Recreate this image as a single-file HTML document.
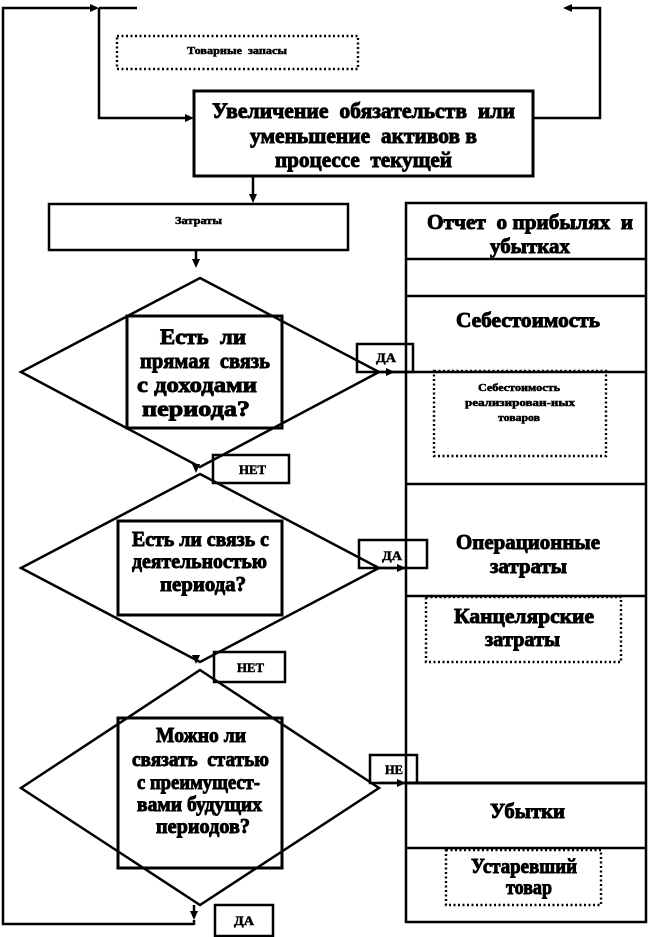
<!DOCTYPE html>
<html><head><meta charset="utf-8"><style>
html,body{margin:0;padding:0;background:#fff;}
svg{display:block;}
text{font-family:"Liberation Serif","Noto Serif CJK SC",serif;font-weight:bold;fill:#000;stroke:#000;stroke-width:0.9;white-space:pre;}
.s{stroke-width:0.5;}
</style></head><body>
<svg width="650" height="937" viewBox="0 0 650 937" xmlns="http://www.w3.org/2000/svg" xml:space="preserve">
<g fill="none" stroke="#000" stroke-width="2.5">
<polyline points="194,924 3,924 3,8 91,8"/>
<line x1="99" y1="8" x2="137" y2="8"/>
<polyline points="99,8 99,118 186,118"/>
<polyline points="533,118 600,118 600,8 571,8"/>
<rect x="194" y="91" width="339" height="85" stroke-width="3"/>
<line x1="253" y1="176" x2="253" y2="195"/>
<rect x="49" y="204" width="299" height="46"/>
<line x1="196" y1="250" x2="196" y2="260"/>
<polygon points="200,278 379,372 200,467 21,372"/>
<polygon points="200,474 379,568 200,662 21,568"/>
<polygon points="200,670 379,788 200,905 21,788"/>
<rect x="127" y="316" width="155" height="112" stroke-width="3"/>
<rect x="118" y="521" width="164" height="94" stroke-width="3"/>
<rect x="118" y="718" width="164" height="150" stroke-width="3"/>
<line x1="379" y1="372" x2="407" y2="372"/>
<line x1="379" y1="568" x2="407" y2="568"/>
<line x1="379" y1="783" x2="407" y2="783"/>
<line x1="194" y1="905" x2="194" y2="912"/>
<line x1="194" y1="920" x2="194" y2="925"/>
<rect x="357" y="344" width="56" height="28"/>
<rect x="213" y="455" width="76" height="28"/>
<rect x="359" y="540" width="68" height="28"/>
<rect x="214" y="652" width="71" height="30"/>
<rect x="370" y="755" width="47" height="28"/>
<rect x="215" y="905" width="58" height="31"/>
<rect x="406" y="203" width="240" height="719"/>
<line x1="406" y1="259" x2="646" y2="259"/>
<line x1="406" y1="296" x2="646" y2="296"/>
<line x1="406" y1="372" x2="646" y2="372"/>
<line x1="406" y1="484" x2="646" y2="484"/>
<line x1="406" y1="596" x2="646" y2="596"/>
<line x1="406" y1="783" x2="646" y2="783" stroke-width="3"/>
<line x1="406" y1="848" x2="646" y2="848"/>
</g>
<g fill="none" stroke="#000" stroke-width="2.4" stroke-dasharray="2 2.5">
<rect x="117" y="36" width="241" height="33"/>
<rect x="434" y="371" width="172" height="85"/>
<rect x="426" y="597" width="195" height="65"/>
<rect x="446" y="850" width="155" height="55"/>
</g>
<g fill="#000" stroke="none">
<polygon points="90,4 99,8 90,12"/>
<polygon points="185,114 194,118 185,122"/>
<polygon points="572,4 563,8 572,12"/>
<polygon points="249,194 253,203 257,194"/>
<polygon points="192,259 196,268 200,259"/>
<polygon points="386,368 395,372 386,376"/>
<polygon points="192,464 196,473 200,464"/>
<polygon points="397,564 406,568 397,572"/>
<polygon points="192,655 196,664 200,655"/>
<polygon points="397,779 406,783 397,787"/>
<polygon points="190,911 194,920 198,911"/>
</g>
<text x="212" y="118" font-size="22" textLength="303" lengthAdjust="spacingAndGlyphs">Увеличение  обязательств  или</text>
<text x="250" y="143" font-size="22" textLength="227" lengthAdjust="spacingAndGlyphs">уменьшение  активов в</text>
<text x="275" y="167" font-size="22" textLength="177" lengthAdjust="spacingAndGlyphs">процессе  текущей</text>
<text class="s" x="187" y="54" font-size="11" textLength="100" lengthAdjust="spacingAndGlyphs">Товарные  запасы</text>
<text class="s" x="175" y="224" font-size="11" textLength="47" lengthAdjust="spacingAndGlyphs">Затраты</text>
<text class="s" x="478" y="391" font-size="10" textLength="82" lengthAdjust="spacingAndGlyphs">Себестоимость</text>
<text class="s" x="465" y="406" font-size="10" textLength="110" lengthAdjust="spacingAndGlyphs">реализирован-ных</text>
<text class="s" x="498" y="421" font-size="10" textLength="42" lengthAdjust="spacingAndGlyphs">товаров</text>
<text x="160" y="344" font-size="22" textLength="86" lengthAdjust="spacingAndGlyphs">Есть  ли</text>
<text x="140" y="368" font-size="22" textLength="130" lengthAdjust="spacingAndGlyphs">прямая  связь</text>
<text x="137" y="392" font-size="22" textLength="120" lengthAdjust="spacingAndGlyphs">с доходами</text>
<text x="142" y="416" font-size="22" textLength="108" lengthAdjust="spacingAndGlyphs">периода?</text>
<text x="132" y="546" font-size="21" textLength="137" lengthAdjust="spacingAndGlyphs">Есть ли связь с</text>
<text x="132" y="568" font-size="21" textLength="135" lengthAdjust="spacingAndGlyphs">деятельностью</text>
<text x="160" y="591" font-size="21" textLength="86" lengthAdjust="spacingAndGlyphs">периода?</text>
<text x="156" y="742" font-size="21" textLength="90" lengthAdjust="spacingAndGlyphs">Можно ли</text>
<text x="132" y="766" font-size="21" textLength="137" lengthAdjust="spacingAndGlyphs">связать  статью</text>
<text x="137" y="789" font-size="21" textLength="123" lengthAdjust="spacingAndGlyphs">с преимущест-</text>
<text x="137" y="811" font-size="21" textLength="125" lengthAdjust="spacingAndGlyphs">вами будущих</text>
<text x="156" y="833" font-size="21" textLength="94" lengthAdjust="spacingAndGlyphs">периодов?</text>
<text class="s" x="376" y="362" font-size="13" textLength="20" lengthAdjust="spacingAndGlyphs">ДА</text>
<text class="s" x="239" y="474" font-size="13" textLength="27" lengthAdjust="spacingAndGlyphs">НЕТ</text>
<text class="s" x="382" y="560" font-size="13" textLength="20" lengthAdjust="spacingAndGlyphs">ДА</text>
<text class="s" x="237" y="672" font-size="13" textLength="27" lengthAdjust="spacingAndGlyphs">НЕТ</text>
<text class="s" x="385" y="774" font-size="13" textLength="18" lengthAdjust="spacingAndGlyphs">НЕ</text>
<text class="s" x="234" y="925" font-size="13" textLength="20" lengthAdjust="spacingAndGlyphs">ДА</text>
<text x="427" y="229" font-size="21" textLength="206" lengthAdjust="spacingAndGlyphs">Отчет  о прибылях  и</text>
<text x="490" y="253" font-size="21" textLength="80" lengthAdjust="spacingAndGlyphs">убытках</text>
<text x="456" y="327" font-size="21" textLength="144" lengthAdjust="spacingAndGlyphs">Себестоимость</text>
<text x="456" y="549" font-size="21" textLength="144" lengthAdjust="spacingAndGlyphs">Операционные</text>
<text x="490" y="573" font-size="21" textLength="77" lengthAdjust="spacingAndGlyphs">затраты</text>
<text x="454" y="623" font-size="21" textLength="140" lengthAdjust="spacingAndGlyphs">Канцелярские</text>
<text x="485" y="646" font-size="21" textLength="75" lengthAdjust="spacingAndGlyphs">затраты</text>
<text x="490" y="818" font-size="21" textLength="75" lengthAdjust="spacingAndGlyphs">Убытки</text>
<text x="471" y="873" font-size="21" textLength="106" lengthAdjust="spacingAndGlyphs">Устаревший</text>
<text x="506" y="894" font-size="21" textLength="46" lengthAdjust="spacingAndGlyphs">товар</text>
</svg>
</body></html>
